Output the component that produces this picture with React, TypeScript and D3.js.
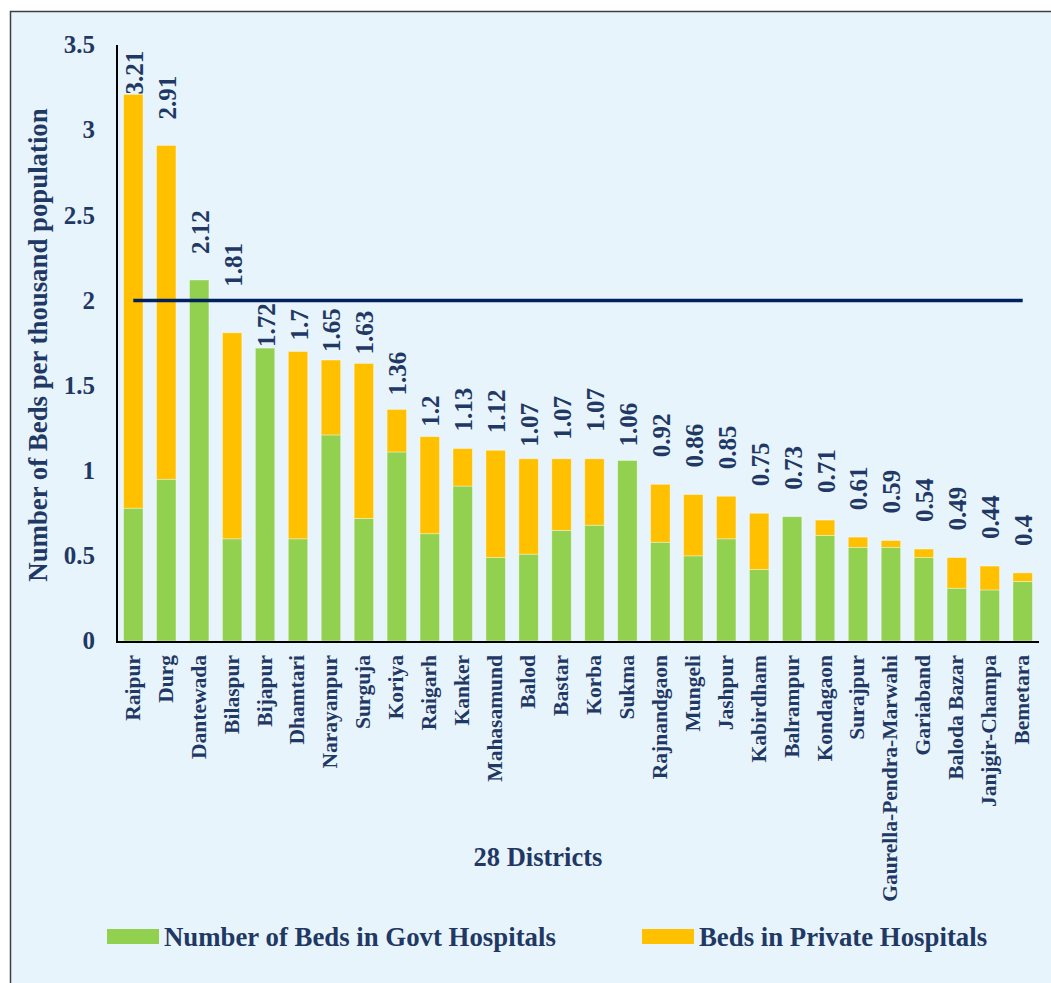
import React from "react";
import * as d3 from "d3";

const districts = [
  "Raipur", "Durg", "Dantewada", "Bilaspur", "Bijapur", "Dhamtari", "Narayanpur",
  "Surguja", "Koriya", "Raigarh", "Kanker", "Mahasamund", "Balod", "Bastar", "Korba",
  "Sukma", "Rajnandgaon", "Mungeli", "Jashpur", "Kabirdham", "Balrampur", "Kondagaon",
  "Surajpur", "Gaurella-Pendra-Marwahi", "Gariaband", "Baloda Bazar", "Janjgir-Champa", "Bemetara",
];
const govtBeds = [
  0.78, 0.95, 2.12, 0.6, 1.72, 0.6, 1.21, 0.72, 1.11, 0.63, 0.91, 0.49, 0.51, 0.65, 0.68,
  1.06, 0.58, 0.5, 0.6, 0.42, 0.73, 0.62, 0.55, 0.55, 0.49, 0.31, 0.3, 0.35,
];
const privateBeds = [
  2.43, 1.96, 0, 1.21, 0, 1.1, 0.44, 0.91, 0.25, 0.57, 0.22, 0.63, 0.56, 0.42, 0.39,
  0, 0.34, 0.36, 0.25, 0.33, 0, 0.09, 0.06, 0.04, 0.05, 0.18, 0.14, 0.05,
];
const totalLabels = [
  "3.21", "2.91", "2.12", "1.81", "1.72", "1.7", "1.65", "1.63", "1.36", "1.2", "1.13", "1.12",
  "1.07", "1.07", "1.07", "1.06", "0.92", "0.86", "0.85", "0.75", "0.73", "0.71", "0.61",
  "0.59", "0.54", "0.49", "0.44", "0.4",
];
const yTicks = [0, 0.5, 1, 1.5, 2, 2.5, 3, 3.5];
const benchmark = 2;
const seriesNames = ["Number of Beds in Govt Hospitals", "Beds in Private Hospitals"];

// styling / label placement (pixels)
const LABEL_GAP = [0, 26, 26, 46, 1, 11, 8, 9, 14, 10, 17, 17, 12, 19, 27, 14, 27, 27, 27, 27, 27, 27, 27, 27, 27, 27, 27, 27];
const GREEN = "#92d050";
const ORANGE = "#ffc000";
const NAVY = "#1f3864";
const LINE = "#002060";
const BG = "#e8f4fc";
const FONT = "'Liberation Serif', 'Times New Roman', serif";

export default function App() {
  const W = 1051, H = 983;
  const x = d3.scaleBand<string>().domain(districts).range([117, 1039]).paddingInner(0.41).paddingOuter(0.2);
  const y = d3.scaleLinear().domain([0, 3.5]).range([641, 45]);

  const rows = districts.map((d, i) => ({ district: d, govt: govtBeds[i], priv: privateBeds[i] }));
  const stack = d3.stack<any>().keys(["govt", "priv"]);
  const layers = stack(rows);
  const colors = [GREEN, ORANGE];

  const bw = x.bandwidth();
  const cx = (d: string) => (x(d) as number) + bw / 2;
  const lineGen = d3.line<string>().x((d) => cx(d)).y(() => y(benchmark));
  const lineEnds = [districts[0], districts[districts.length - 1]];

  return (
    <svg width={W} height={H} style={{ position: "absolute", left: 0, top: 0 }} fontFamily={FONT}>
      <rect x={0} y={0} width={W} height={H} fill="#ffffff" />
      <rect x={10.5} y={11.5} width={W + 20} height={H + 20} fill={BG} stroke="#3f3f3f" strokeWidth={1.5} />

      {/* bars */}
      {layers.map((layer, li) => (
        <g key={li} fill={colors[li]}>
          {layer.map((seg, i) =>
            seg[1] - seg[0] > 0 ? (
              <rect
                key={i}
                x={x(districts[i])}
                y={y(seg[1])}
                width={bw}
                height={y(seg[0]) - y(seg[1])}
                stroke="#ffffff"
                strokeOpacity={0.45}
                strokeWidth={0.8}
              />
            ) : null
          )}
        </g>
      ))}

      {/* axes */}
      <line x1={117} x2={117} y1={y(3.5)} y2={642} stroke="#000" strokeWidth={2} />
      <line x1={116} x2={1039} y1={642} y2={642} stroke="#000" strokeWidth={2} />

      {/* benchmark line */}
      <path d={lineGen(lineEnds) as string} stroke={LINE} strokeWidth={3.5} fill="none" />

      {/* y ticks */}
      {yTicks.map((t) => (
        <text key={t} x={95} y={y(t)} dy="0.33em" textAnchor="end" fontSize={25} fontWeight="bold" fill={NAVY}>
          {d3.format("")(t)}
        </text>
      ))}

      {/* value labels */}
      {districts.map((d, i) => {
        const top = y(govtBeds[i] + privateBeds[i]);
        return (
          <text
            key={d}
            transform={`translate(${cx(d) + 1},${top - LABEL_GAP[i]}) rotate(-90)`}
            dy="0.34em"
            textAnchor="start"
            fontSize={25}
            fontWeight="bold"
            fill={NAVY}
          >
            {totalLabels[i]}
          </text>
        );
      })}

      {/* x labels */}
      {districts.map((d) => (
        <text
          key={d}
          transform={`translate(${cx(d)},655) rotate(-90)`}
          dy="0.3em"
          textAnchor="end"
          fontSize={21.5}
          fontWeight="bold"
          fill={NAVY}
        >
          {d}
        </text>
      ))}

      {/* axis titles */}
      <text
        transform={`translate(38,${(y(3.5) + y(0)) / 2 + 2}) rotate(-90)`}
        dy="0.35em"
        textAnchor="middle"
        fontSize={26.8}
        fontWeight="bold"
        fill={NAVY}
      >
        Number of Beds per thousand population
      </text>
      <text x={538} y={866} textAnchor="middle" fontSize={26.5} fontWeight="bold" fill={NAVY}>
        28 Districts
      </text>

      {/* legend */}
      {[107, 642].map((lx, i) => (
        <g key={i}>
          <rect x={lx} y={929} width={52} height={15} fill={colors[i]} />
          <text x={lx + 57} y={946} fontSize={26.8} fontWeight="bold" fill={NAVY}>
            {seriesNames[i]}
          </text>
        </g>
      ))}
    </svg>
  );
}
